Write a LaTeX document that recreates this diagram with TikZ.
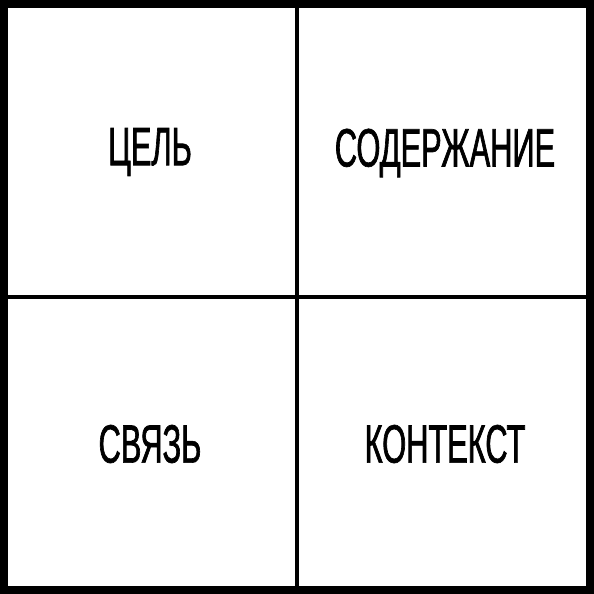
\documentclass[tikz,border=0pt]{standalone}
\usepackage{fontspec}
\setmainfont[FakeStretch=0.57,FakeBold=1.2]{Liberation Sans}
\begin{document}
\begin{tikzpicture}[x=1pt,y=1pt,
  label/.style={inner sep=0pt, font=\fontsize{54}{54}\selectfont, anchor=center},
  frame/.style={line width=8pt},
  divider/.style={line width=3.5pt}]
\useasboundingbox (0,0) rectangle (594,594);
\fill[white] (0,0) rectangle (594,594);
\draw[frame] (4,4) rectangle (589.5,589.5);
\coordinate (top) at (297,590);
\coordinate (bottom) at (297,4);
\coordinate (left) at (4,297);
\coordinate (right) at (590,297);
\draw[divider] (top) -- (bottom);
\draw[divider] (left) -- (right);
\node[label] (goal) at (150,442) {ЦЕЛЬ};
\node[label] (content) at (445,441) {СОДЕРЖАНИЕ};
\node[label] (link) at (150,150) {СВЯЗЬ};
\node[label] (context) at (445,150) {КОНТЕКСТ};
\end{tikzpicture}
\end{document}
